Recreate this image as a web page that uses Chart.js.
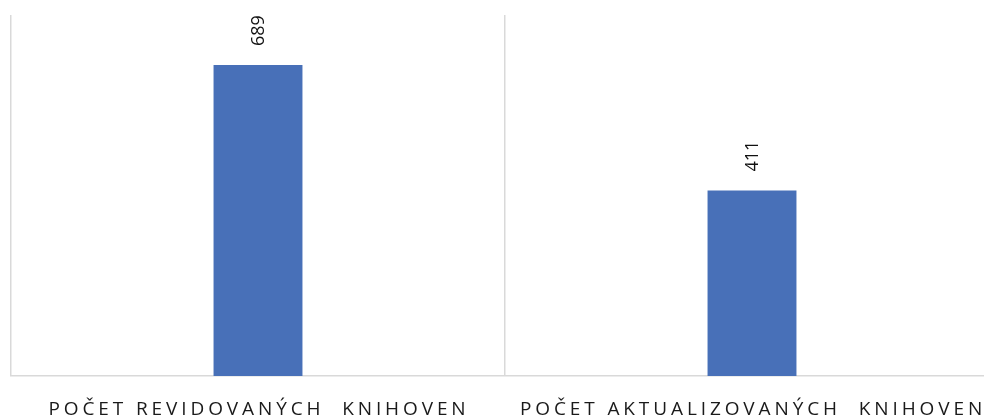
<!DOCTYPE html>
<html>
<head>
<meta charset="utf-8">
<script src="https://cdn.jsdelivr.net/npm/chart.js@4/dist/chart.umd.min.js"></script>
<style>
  html, body { margin: 0; padding: 0; background: #fff; overflow: hidden; }
</style>
</head>
<body>
<canvas id="graf" width="1000" height="416"></canvas>
<script>
const kategorie = ['POČET REVIDOVANÝCH  KNIHOVEN', 'POČET AKTUALIZOVANÝCH  KNIHOVEN']
const hodnoty = [689, 411]
const maxY = 800

// popisky hodnot nad sloupci, otocene o 90 stupnu
const popiskyHodnot = {
    id: 'popiskyHodnot',
    afterDatasetsDraw(chart) {
        const {ctx} = chart
        const meta = chart.getDatasetMeta(0)
        ctx.save()
        ctx.font = '18px "Open Sans", sans-serif'
        ctx.fillStyle = '#111'
        ctx.textAlign = 'left'
        ctx.textBaseline = 'middle'
        meta.data.forEach((bar, i) => {
            ctx.save()
            ctx.translate(bar.x + 1, bar.y - 19)
            ctx.rotate(-Math.PI / 2)
            ctx.fillText(String(hodnoty[i]), 0, 0)
            ctx.restore()
        })
        ctx.restore()
    }
}

// popisky kategorii s prolozenim pismen
const popiskyOsy = {
    id: 'popiskyOsy',
    afterDraw(chart) {
        const {ctx} = chart
        const xs = chart.scales.x
        ctx.save()
        ctx.font = '19px "Open Sans", sans-serif'
        ctx.letterSpacing = '3.9px'
        ctx.fillStyle = '#1a1a1a'
        ctx.textAlign = 'center'
        ctx.textBaseline = 'alphabetic'
        kategorie.forEach((k, i) => {
            ctx.fillText(k, xs.getPixelForValue(i) + 1, 415)
        })
        ctx.restore()
    }
}

const config = {
    type: 'bar',
    data: {
        labels: kategorie,
        datasets: [{
            data: hodnoty,
            backgroundColor: '#4870b8',
            categoryPercentage: 1,
            barPercentage: 0.18
        }]
    },
    options: {
        responsive: false,
        animation: false,
        layout: {
            padding: {left: 11, right: 1, top: 15, bottom: 40}
        },
        plugins: {
            legend: {display: false},
            tooltip: {enabled: false}
        },
        scales: {
            x: {
                grid: {
                    display: true,
                    offset: true,
                    color: '#d9d9d9',
                    lineWidth: 1.5,
                    drawTicks: false
                },
                border: {display: true, color: '#d9d9d9', width: 1.5},
                ticks: {display: false}
            },
            y: {
                display: false,
                min: 0,
                max: maxY
            }
        }
    },
    plugins: [popiskyHodnot, popiskyOsy]
}

new Chart(document.getElementById('graf'), config)
</script>
</body>
</html>
